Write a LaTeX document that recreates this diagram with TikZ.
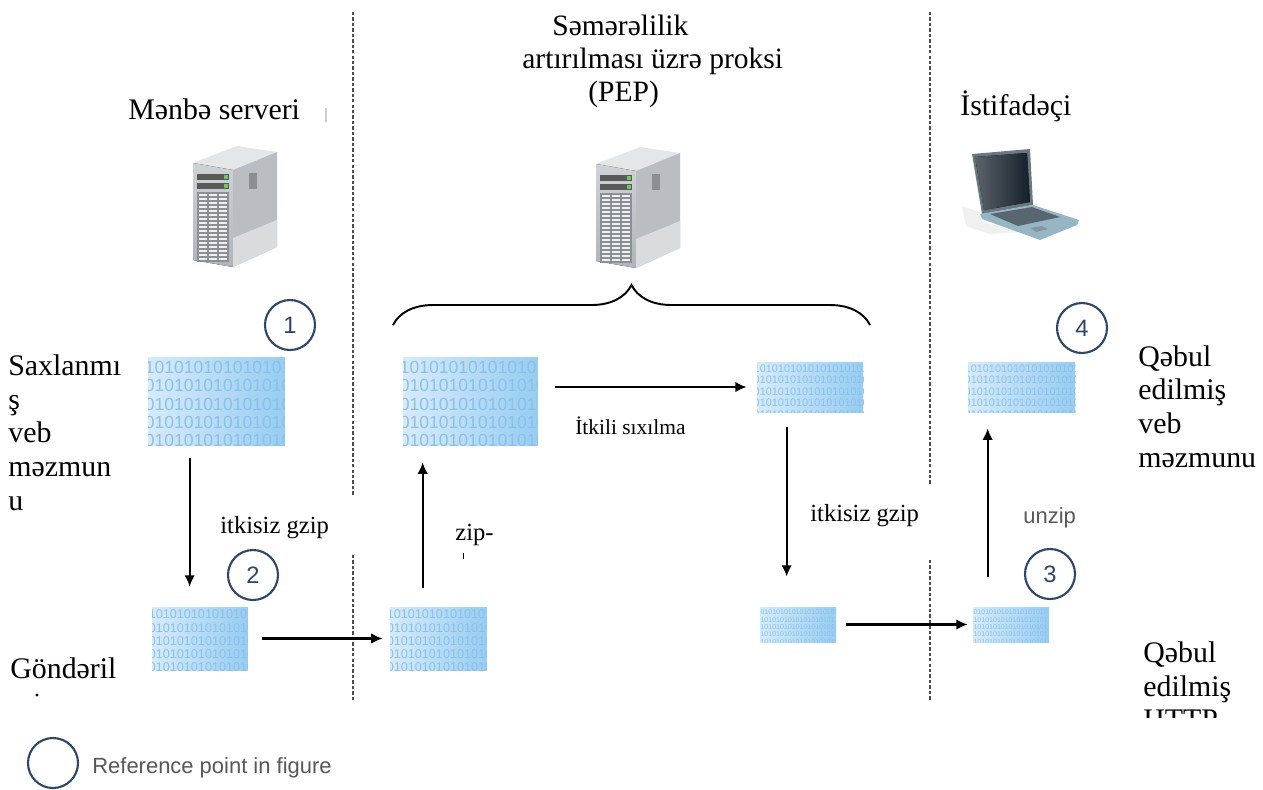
\documentclass[tikz,border=0pt]{standalone}
\usepackage{fontspec}
\setmainfont{Liberation Serif}
\setsansfont{Liberation Sans}
\usetikzlibrary{arrows.meta}
\usetikzlibrary{decorations.pathreplacing}
\definecolor{refnavy}{RGB}{44,70,108}
\definecolor{bitleft}{RGB}{214,235,250}
\definecolor{bitright}{RGB}{150,205,242}
\definecolor{bitdigit}{RGB}{140,192,233}
\definecolor{captgray}{RGB}{88,88,88}
\definecolor{srvtop}{RGB}{228,230,232}
\definecolor{srvfront}{RGB}{176,180,186}
\definecolor{srvside}{RGB}{186,189,194}
\definecolor{srvslot}{RGB}{138,144,150}
\definecolor{srvled}{RGB}{110,200,95}
\definecolor{lapframe}{RGB}{105,120,130}
\definecolor{lapglass}{RGB}{20,32,42}
\definecolor{lapbase}{RGB}{150,182,196}
\definecolor{lapkeys}{RGB}{88,102,112}

\begin{document}
\begin{tikzpicture}[x=0.02cm,y=-0.02cm,
    >={Latex[length=6.5pt,width=6pt]},
    flow/.style={->,line width=1.2pt},
    divider/.style={dashed,dash pattern=on 1.9pt off 1.2pt,line width=0.85pt,black!70},
    lbl/.style={inner sep=0,align=left,font=\fontsize{17}{19.3}\selectfont},
    note/.style={inner sep=0,font=\fontsize{14}{16}\selectfont},
    capt/.style={inner sep=0,text=captgray,font=\sffamily\fontsize{12.5}{15}\selectfont},
    refmark/.style={circle,draw=refnavy,line width=1.2pt,minimum size=1cm,inner sep=0,
      text=refnavy,font=\sffamily\fontsize{13.5}{15}\selectfont},
    bits/.style 2 args={rectangle,inner sep=0,left color=bitleft,right color=bitright,
      path picture={\node[anchor=north west,inner sep=0,scale=#1,align=left,text=bitdigit,
        font=\sffamily\fontsize{10}{10.5}\selectfont]
        at ([xshift=-2pt,yshift=-1.5pt]path picture bounding box.north west) {#2};}}]
  \useasboundingbox (0,0) rectangle (1263,789);
  \fill[white] (0,0) rectangle (1263,789);

  \def\bitrows{101010101010101\\010101010101010\\010101010101010\\010101010101010\\010101010101010}
  \def\bitrowswide{10101010101010101010\\01010101010101010101\\01010101010101010101\\01010101010101010101\\01010101010101010101}

  % tower server, 84 x 121 units
  \def\servericon{%
    \fill[srvtop] (0,17) -- (40,24) -- (84,6) -- (44,0) -- cycle;
    \fill[top color=srvfront!60!white,bottom color=srvfront] (0,17) -- (40,24) -- (40,121) -- (0,114) -- cycle;
    \fill[srvside] (40,24) -- (84,6) -- (84,101) -- (40,121) -- cycle;
    \fill[srvside!55!white] (40,92) -- (84,74) -- (84,101) -- (40,121) -- cycle;
    \fill[srvside!75!black] (56,27) rectangle (64,43);
    \fill[gray!70!black] (4,28) rectangle (36,34);
    \fill[gray!70!black] (4,37) rectangle (36,43);
    \fill[srvled] (31,29) rectangle (35,33);
    \fill[srvled] (31,38) rectangle (35,42);
    \fill[srvslot] (4,46) rectangle (36,116);
    \foreach \r in {0,...,16}
      \foreach \c in {0,1,2}
        \fill[white!88!gray] (6+\c*10,48+\r*4) rectangle ++(8,2.2);
  }
  % notebook, 119 x 92 units
  \def\laptopicon{%
    \fill[gray!12] (2,58) -- (20,64) -- (22,74) -- (60,84) -- (30,86) -- (6,78) -- cycle;
    \fill[lapframe] (12,6) -- (70,1) -- (73,57) -- (22,66) -- cycle;
    \fill[left color=lapglass!70!white,right color=lapglass] (15,9) -- (67,5) -- (70,54) -- (24,62) -- cycle;
    \fill[lapbase] (20,66) -- (73,57) -- (119,72) -- (117,77) -- (80,92) -- (22,71) -- cycle;
    \fill[lapkeys] (30,66) -- (72,59) -- (100,69) -- (58,78) -- cycle;
    \fill[lapkeys!70] (70,80) -- (82,78) -- (88,81) -- (76,84) -- cycle;
  }

  % zone borders
  \draw[divider] (353,12) -- (353,495);
  \draw[divider] (353,555) -- (353,700);
  \draw[divider] (930,12) -- (930,485);
  \draw[divider] (930,560) -- (930,700);

  % headings and icons
  \node[lbl,anchor=base west] (srclbl) at (128,119) {Mənbə serveri};
  \draw[gray!40,line width=0.8pt] (326,108) -- (326,122);
  \node[lbl,anchor=north west,font=\fontsize{16.8}{18.8}\selectfont] (peplbl) at (522,15)
    {\hspace*{0.6cm}Səmərəlilik\\artırılması üzrə proksi\\\hspace*{1.32cm}(PEP)};
  \node[lbl,anchor=base west] (userlbl) at (960,115) {İstifadəçi};
  \begin{scope}[shift={(193,146)}]
    \servericon
  \end{scope}
  \begin{scope}[shift={(596,147)}]
    \servericon
  \end{scope}
  \begin{scope}[shift={(960,148)}]
    \laptopicon
  \end{scope}
  \draw[decorate,decoration={brace,amplitude=0.8cm},line width=1.1pt] (393,325) -- (870,325);

  % data blocks
  \node[bits={1}{\bitrows},minimum width=2.74cm,minimum height=1.76cm] (stored) at (216.5,401) {};
  \node[bits={1}{\bitrows},minimum width=2.70cm,minimum height=1.76cm] (pepbig) at (470.5,401) {};
  \node[bits={0.62}{\bitrowswide},minimum width=2.12cm,minimum height=1cm] (pepzip) at (810,387) {};
  \node[bits={0.62}{\bitrowswide},minimum width=2.14cm,minimum height=1cm] (webin) at (1021.5,387) {};
  \node[bits={0.72}{\bitrows},minimum width=1.92cm,minimum height=1.26cm] (sent) at (200,638.5) {};
  \node[bits={0.72}{\bitrows},minimum width=1.94cm,minimum height=1.26cm] (pepin) at (438.5,638.5) {};
  \node[bits={0.4}{\bitrowswide},minimum width=1.52cm,minimum height=0.7cm] (pepout) at (798,624.5) {};
  \node[bits={0.4}{\bitrowswide},minimum width=1.52cm,minimum height=0.7cm] (userzip) at (1011,624.5) {};

  % reference points
  \node[refmark] (pt1) at (290,325) {1};
  \node[refmark] (pt2) at (253,575) {2};
  \node[refmark] (pt3) at (1050,574) {3};
  \node[refmark] (pt4) at (1082,328) {4};

  % flow of the content
  \coordinate (a1) at ([xshift=0.84cm]stored.south west);
  \coordinate (a3) at ([xshift=0.66cm]pepin.north west);
  \coordinate (a5) at ([xshift=0.6cm]pepzip.south west);
  \coordinate (a7) at ([xshift=0.3cm]userzip.north west);
  \draw[flow,shorten <=0.26cm,shorten >=0.4cm] (a1) -- (a1 |- sent.north);
  \draw[flow,shorten <=0.28cm,shorten >=0.14cm] (sent.east) -- (pepin.west);
  \draw[flow,shorten <=0.38cm,shorten >=0.34cm] (a3) -- (a3 |- pepbig.south);
  \draw[flow,shorten <=0.34cm,shorten >=0.2cm] (pepbig.east |- pepzip.west) -- (pepzip.west);
  \draw[flow,shorten <=0.3cm,shorten >=0.6cm] (a5) -- (a5 |- pepout.north);
  \draw[flow,shorten <=0.2cm,shorten >=0.1cm] (pepout.east) -- (userzip.west);
  \draw[flow,shorten <=0.6cm,shorten >=0.32cm] (a7) -- (a7 |- webin.south);

  % step labels
  \node[note,anchor=base west] (gziplbl) at (220,533) {itkisiz gzip};
  \node[note,anchor=base west] (ziplbl) at (455,540) {zip-};
  \fill (462.5,553) rectangle (464,559);
  \node[inner sep=0,anchor=base west,font=\fontsize{12.2}{14}\selectfont] (lossylbl) at (575,434) {İtkili sıxılma};
  \node[note,anchor=base west] (regziplbl) at (810,521) {itkisiz gzip};
  \node[capt,anchor=base west] (unziplbl) at (1023,523) {unzip};

  % side captions
  \node[lbl,anchor=north west] (storedlbl) at (8,354) {Saxlanmı\\ş\\veb\\məzmun\\u};
  \node[lbl,anchor=base west] (sentlbl) at (10,678) {Göndəril};
  \fill (37,695) circle (1.6);
  \node[lbl,anchor=north west] (weblbl) at (1138,345) {Qəbul\\edilmiş\\veb\\məzmunu};
  \begin{scope}
    \clip (1100,620) rectangle (1263,717);
    \node[lbl,anchor=north west] (httplbl) at (1143,641) {Qəbul\\edilmiş\\HTTP};
  \end{scope}

  % legend
  \node[refmark] (legendmark) at (53,763) {};
  \node[capt,anchor=base west] (legendlbl) at (92,773) {Reference point in figure};
\end{tikzpicture}
\end{document}
